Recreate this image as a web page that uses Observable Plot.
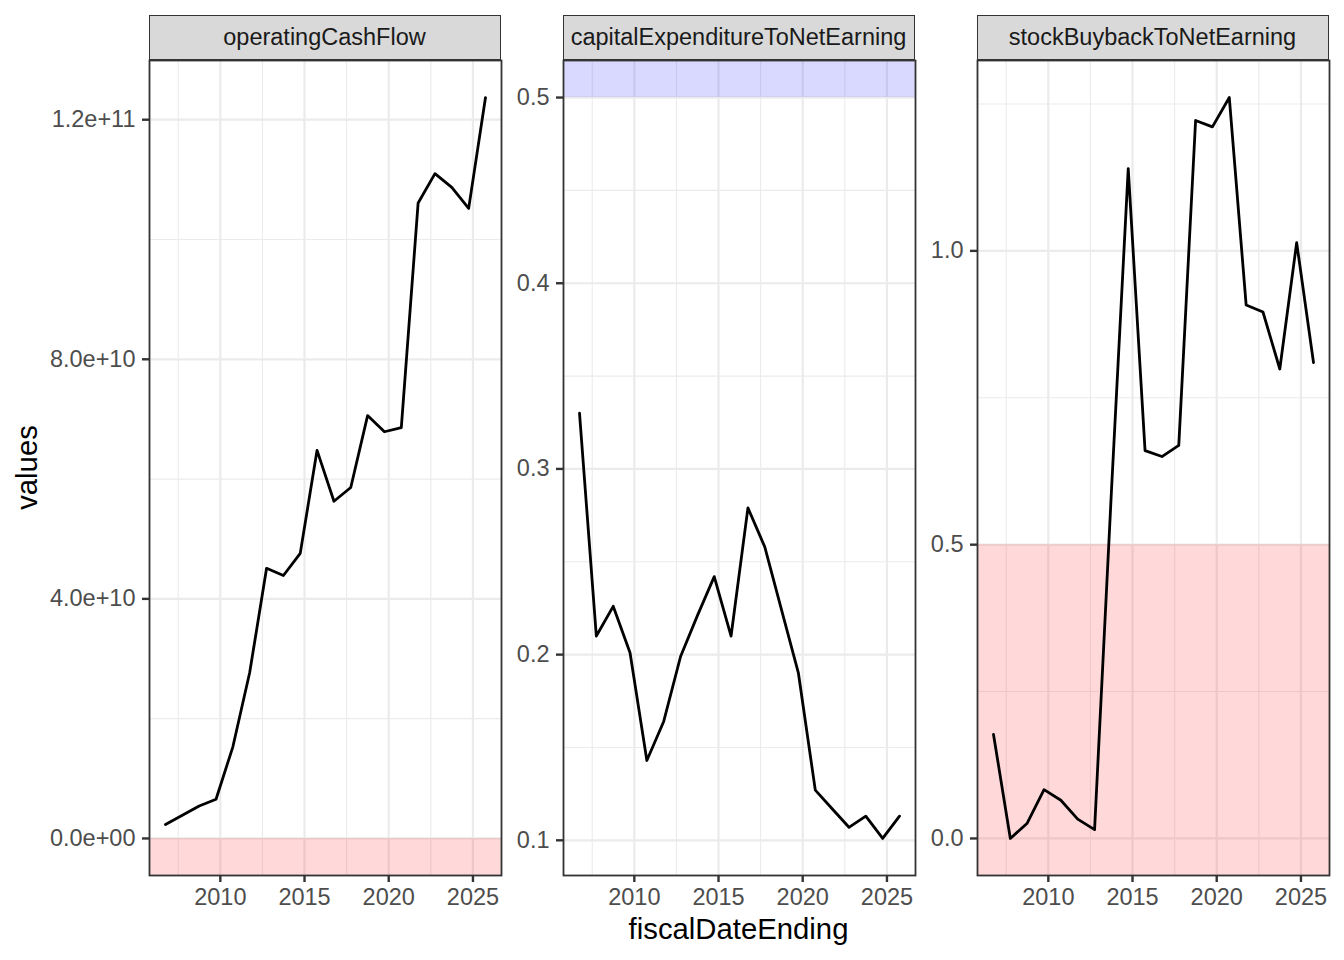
<!DOCTYPE html>
<html>
<head>
<meta charset="utf-8">
<script src="https://cdn.jsdelivr.net/npm/d3@7"></script>
<script src="https://cdn.jsdelivr.net/npm/@observablehq/plot@0.6"></script>
<style>
  body { margin: 0; background: #fff; }
  #chart { position: relative; width: 1344px; height: 960px; background: #fff; overflow: hidden;
           font-family: "Liberation Sans", Arial, Helvetica, sans-serif; }
  .strip { position: absolute; box-sizing: border-box; background: #D9D9D9; border: 1.8px solid #333333;
           display: flex; align-items: center; justify-content: center; font-size: 23.5px; color: #1A1A1A; }
  .panel { position: absolute; }
  #titles { position: absolute; left: 0; top: 0; }
</style>
</head>
<body>
<div id="chart"></div>
<script>
// ---------------- data ----------------
const fiscalDateEnding = [
  "2006-09-30","2007-09-30","2008-09-30","2009-09-30","2010-09-30",
  "2011-09-30","2012-09-30","2013-09-30","2014-09-30","2015-09-30",
  "2016-09-30","2017-09-30","2018-09-30","2019-09-30","2020-09-30",
  "2021-09-30","2022-09-30","2023-09-30","2024-09-30","2025-09-30"
];
const operatingCashFlow = [
  2.33e9, 3.88e9, 5.43e9, 6.55e9, 15.3e9,
  27.7e9, 45.1e9, 43.9e9, 47.6e9, 64.8e9,
  56.3e9, 58.6e9, 70.6e9, 67.9e9, 68.6e9,
  106.1e9, 111.0e9, 108.7e9, 105.2e9, 123.7e9
];
const capitalExpenditureToNetEarning = [
  0.330, 0.210, 0.226, 0.201, 0.143,
  0.164, 0.199, 0.221, 0.242, 0.210,
  0.279, 0.258, 0.224, 0.190, 0.127,
  0.117, 0.107, 0.113, 0.101, 0.113
];
const stockBuybackToNetEarning = [
  0.177, 0.000, 0.026, 0.083, 0.065,
  0.033, 0.015, 0.590, 1.140, 0.660,
  0.650, 0.669, 1.222, 1.211, 1.261,
  0.908, 0.896, 0.799, 1.014, 0.810
];
const metricNames = ["operatingCashFlow", "capitalExpenditureToNetEarning", "stockBuybackToNetEarning"];
const metricValues = [operatingCashFlow, capitalExpenditureToNetEarning, stockBuybackToNetEarning];
// shaded bands (lower / upper bounds) per metric
const bandLower = [-Infinity, 0.5, -Infinity];
const bandUpper = [0, Infinity, 0.5];
// tick labels
const xTickYears = [2010, 2015, 2020, 2025];
const yTickValues = [
  [0, 4e10, 8e10, 1.2e11],
  [0.1, 0.2, 0.3, 0.4, 0.5],
  [0, 0.5, 1.0]
];

// ---------------- styling / layout ----------------
const bandColors = ["red", "blue", "red"];
const fmtSci = v => v.toExponential(1).replace(/e([+-])(\d)$/, "e$10$2");
const fmtFix = v => v.toFixed(1);
const yFormats = [fmtSci, fmtFix, fmtFix];
const panelLefts = [148.5, 562.5, 976.5];
const panelW = 352, panelTop = 60, panelH = 815;
const stripTop = 15, stripH = 45;
const mL = 120, mT = 2, mR = 2, mB = 50;
const FONT = '"Liberation Sans", Arial, Helvetica, sans-serif';

const chart = document.getElementById("chart");
const dates = fiscalDateEnding.map(s => new Date(s + "T00:00:00Z"));

function expand(ext, f = 0.05) {
  const a = +ext[0], b = +ext[1], p = (b - a) * f;
  return [a - p, b + p];
}

const xDom = expand(d3.extent(dates)).map(t => new Date(t));
const majorX = xTickYears.map(y => new Date(Date.UTC(y, 0, 1)));
const xStep = xTickYears[1] - xTickYears[0];
const minorX = [xTickYears[0] - xStep, ...xTickYears]
  .map(y => new Date((Date.UTC(y, 0, 1) + Date.UTC(y + xStep, 0, 1)) / 2))
  .filter(d => d >= xDom[0] && d <= xDom[1]);

metricNames.forEach((name, i) => {
  const vals = metricValues[i];
  const data = dates.map((d, k) => ({date: d, value: vals[k]}));
  const bandFinite = [bandLower[i], bandUpper[i]].filter(Number.isFinite);
  const yDom = expand(d3.extent([...vals, ...bandFinite]));
  const ticks = yTickValues[i];
  const step = ticks[1] - ticks[0];
  const minorY = [ticks[0] - step, ...ticks].map(t => t + step / 2)
    .filter(v => v >= yDom[0] && v <= yDom[1]);
  const band = [{
    x1: xDom[0], x2: xDom[1],
    y1: Math.max(bandLower[i], yDom[0]),
    y2: Math.min(bandUpper[i], yDom[1])
  }];

  const plot = Plot.plot({
    width: mL + panelW + mR,
    height: mT + panelH + mB,
    marginLeft: mL, marginRight: mR, marginTop: mT, marginBottom: mB,
    style: {background: "transparent", fontFamily: FONT, fontSize: "23.5px", color: "#4D4D4D", overflow: "visible"},
    x: {type: "utc", domain: xDom},
    y: {domain: yDom},
    marks: [
      Plot.ruleX(minorX, {stroke: "#EBEBEB", strokeWidth: 1.1}),
      Plot.ruleY(minorY, {stroke: "#EBEBEB", strokeWidth: 1.1}),
      Plot.ruleX(majorX, {stroke: "#EBEBEB", strokeWidth: 2.2}),
      Plot.ruleY(ticks, {stroke: "#EBEBEB", strokeWidth: 2.2}),
      Plot.rect(band, {x1: "x1", x2: "x2", y1: "y1", y2: "y2", fill: bandColors[i], fillOpacity: 0.15}),
      Plot.line(data, {x: "date", y: "value", stroke: "black", strokeWidth: 2.8}),
      Plot.axisX(majorX, {tickSize: 7, tickPadding: 6, tickFormat: "%Y", stroke: "#333333", strokeWidth: 2.4,
                          fill: "#4D4D4D", fontSize: 23.5, label: null}),
      Plot.axisY(ticks, {tickSize: 7, tickPadding: 7, tickFormat: yFormats[i], stroke: "#333333", strokeWidth: 2.4,
                         fill: "#4D4D4D", fontSize: 23.5, label: null}),
      Plot.frame({stroke: "#333333", strokeWidth: 1.8})
    ]
  });
  plot.classList.add("panel");
  plot.style.left = (panelLefts[i] - mL) + "px";
  plot.style.top = (panelTop - mT) + "px";
  chart.appendChild(plot);

  const strip = document.createElement("div");
  strip.className = "strip";
  strip.style.left = panelLefts[i] + "px";
  strip.style.top = stripTop + "px";
  strip.style.width = panelW + "px";
  strip.style.height = stripH + "px";
  strip.textContent = name;
  chart.appendChild(strip);
});

// axis titles
const ns = "http://www.w3.org/2000/svg";
const svg = document.createElementNS(ns, "svg");
svg.setAttribute("id", "titles");
svg.setAttribute("width", 1344);
svg.setAttribute("height", 960);
svg.style.pointerEvents = "none";
function addText(txt, x, y, rot) {
  const t = document.createElementNS(ns, "text");
  t.textContent = txt;
  t.setAttribute("text-anchor", "middle");
  t.setAttribute("font-family", FONT);
  t.setAttribute("font-size", "29.3px");
  t.setAttribute("fill", "#000000");
  t.setAttribute("transform", `translate(${x},${y}) rotate(${rot})`);
  svg.appendChild(t);
}
addText("fiscalDateEnding", (panelLefts[0] + panelLefts[2] + panelW) / 2, 939, 0);
addText("values", 37, panelTop + panelH / 2, -90);
chart.appendChild(svg);
</script>
</body>
</html>
